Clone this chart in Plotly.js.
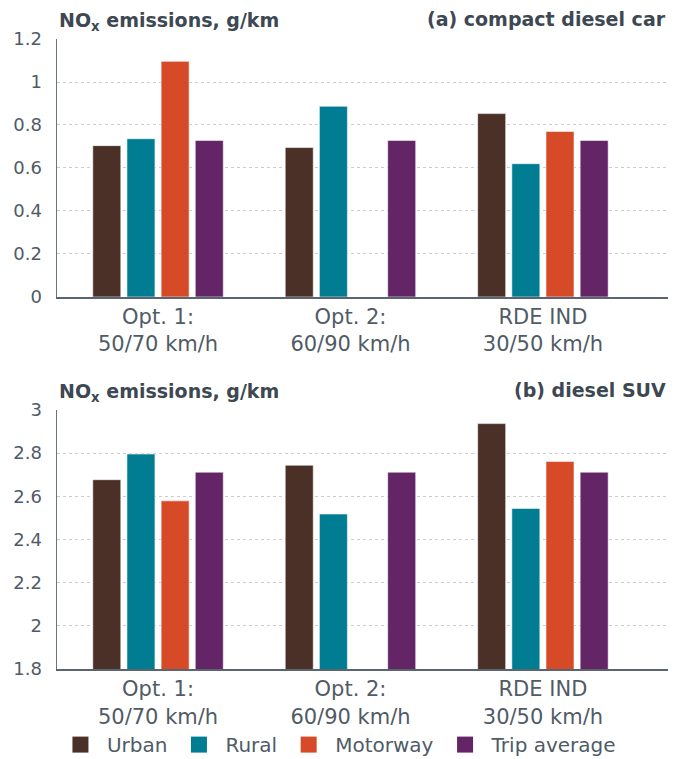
<!DOCTYPE html>
<html>
<head>
<meta charset="utf-8">
<script src="https://cdn.plot.ly/plotly-3.0.1.min.js"></script>
<style>
html,body{margin:0;padding:0;background:#fff;}
#chart{width:681px;height:759px;}
</style>
</head>
<body>
<div id="chart"></div>
<script>
// Categories
const categories = ["Opt. 1:<br>50/70 km/h", "Opt. 2:<br>60/90 km/h", "RDE IND<br>30/50 km/h"];
const seriesNames = ["Urban", "Rural", "Motorway", "Trip average"];
const seriesColors = ["#4B3027", "#007D93", "#D64A28", "#642566"];

// (a) compact diesel car, NOx g/km
const carUrban    = [0.704, 0.695, 0.853];
const carRural    = [0.736, 0.887, 0.620];
const carMotorway = [1.096, null, 0.770];
const carTripAvg  = [0.728, 0.728, 0.728];

// (b) diesel SUV, NOx g/km
const suvUrban    = [2.677, 2.744, 2.937];
const suvRural    = [2.796, 2.518, 2.544];
const suvMotorway = [2.579, null, 2.762];
const suvTripAvg  = [2.712, 2.712, 2.712];

const yTicksA = [0, 0.2, 0.4, 0.6, 0.8, 1, 1.2];
const yTicksB = [1.8, 2, 2.2, 2.4, 2.6, 2.8, 3];

const carSeries = [carUrban, carRural, carMotorway, carTripAvg];
const suvSeries = [suvUrban, suvRural, suvMotorway, suvTripAvg];

const FONT = "DejaVu Sans, sans-serif";
const TXT = "#505b66";
const TITLE = "#3d4852";

const traces = [];
carSeries.forEach((vals, i) => {
  traces.push({
    type: "bar", name: seriesNames[i], x: categories, y: vals,
    xaxis: "x", yaxis: "y", legendgroup: seriesNames[i], showlegend: false,
    marker: {color: seriesColors[i], line: {color: "rgba(255,255,255,0.55)", width: 1}},
    hoverinfo: "y"
  });
});
suvSeries.forEach((vals, i) => {
  traces.push({
    type: "bar", name: seriesNames[i], x: categories, y: vals,
    xaxis: "x2", yaxis: "y2", legendgroup: seriesNames[i], showlegend: false,
    marker: {color: seriesColors[i], line: {color: "rgba(255,255,255,0.55)", width: 1}},
    hoverinfo: "y"
  });
});
// legend entries (square swatches)
seriesNames.forEach((nm, i) => {
  traces.push({
    type: "scatter", mode: "markers", name: nm, x: [null], y: [null],
    xaxis: "x2", yaxis: "y2", legendgroup: nm, showlegend: true,
    marker: {symbol: "square", size: 16, color: seriesColors[i]},
    hoverinfo: "skip"
  });
});

const xCommon = {
  type: "category", range: [-0.525, 2.65],
  showline: true, linecolor: "#5b6570", linewidth: 2,
  ticks: "", showgrid: false, zeroline: false,
  tickfont: {family: FONT, size: 21, color: TXT},
  fixedrange: true
};
const yCommon = {
  showline: true, linecolor: "#6b747d", linewidth: 1.5,
  showgrid: true, gridcolor: "#c9ccd0", griddash: "dot", gridwidth: 1,
  zeroline: false, ticks: "",
  tickfont: {family: FONT, size: 18, color: TXT},
  ticklen: 0, ticklabelstandoff: 10, fixedrange: true
};

const layout = {
  width: 681, height: 759,
  margin: {l: 57, r: 13, t: 39, b: 90, autoexpand: false},
  paper_bgcolor: "#fff", plot_bgcolor: "#fff",
  barmode: "group", bargap: 0.29, bargroupgap: 0.18,
  showlegend: true,
  legend: {
    orientation: "h", x: -0.005, xanchor: "left", y: -0.12, yanchor: "middle",
    font: {family: FONT, size: 20, color: TXT},
    itemwidth: 43, tracegroupgap: 0
  },
  xaxis: Object.assign({}, xCommon, {anchor: "y"}),
  xaxis2: Object.assign({}, xCommon, {anchor: "y2"}),
  yaxis: Object.assign({}, yCommon, {domain: [0.5905, 1], range: [0, 1.2], tickvals: yTicksA, anchor: "x"}),
  yaxis2: Object.assign({}, yCommon, {domain: [0, 0.4111], range: [1.8, 3], tickvals: yTicksB, anchor: "x2"}),
  annotations: [
    {text: "<b>NO<sub>x</sub> emissions, g/km</b>", xref: "paper", yref: "paper", x: 0, y: 1, xanchor: "left", yanchor: "bottom", yshift: 3, showarrow: false, font: {family: FONT, size: 19, color: TITLE}},
    {text: "<b>(a) compact diesel car</b>", xref: "paper", yref: "paper", x: 1, y: 1, xanchor: "right", yanchor: "bottom", yshift: 7, showarrow: false, font: {family: FONT, size: 19, color: TITLE}},
    {text: "<b>NO<sub>x</sub> emissions, g/km</b>", xref: "paper", yref: "paper", x: 0, y: 0.4111, xanchor: "left", yanchor: "bottom", yshift: 3, showarrow: false, font: {family: FONT, size: 19, color: TITLE}},
    {text: "<b>(b) diesel SUV</b>", xref: "paper", yref: "paper", x: 1, y: 0.4111, xanchor: "right", yanchor: "bottom", yshift: 7, showarrow: false, font: {family: FONT, size: 19, color: TITLE}}
  ]
};

Plotly.newPlot("chart", traces, layout, {displayModeBar: false, staticPlot: true});
</script>
</body>
</html>
